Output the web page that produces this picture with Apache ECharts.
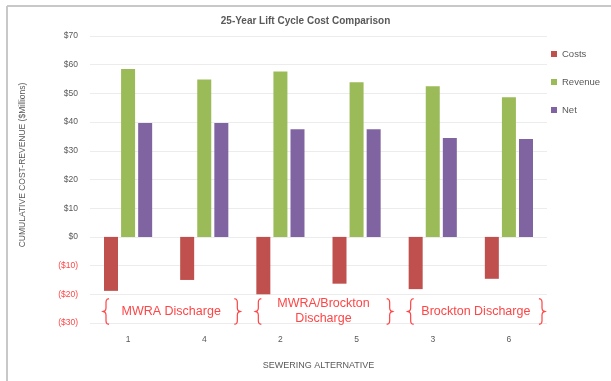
<!DOCTYPE html>
<html>
<head>
<meta charset="utf-8">
<script src="https://cdn.jsdelivr.net/npm/echarts@6/dist/echarts.min.js"></script>
<style>
  html, body { margin: 0; padding: 0; background: #fff; }
  #chart { width: 611px; height: 381px; }
</style>
</head>
<body>
<div id="chart"></div>
<script>
// sewering alternatives, in the order shown
var categories = ['1', '4', '2', '5', '3', '6'];
var costs   = [-18.8, -15.0, -20.0, -16.3, -18.2, -14.6];
var revenue = [58.5, 54.8, 57.6, 53.9, 52.5, 48.7];
var net     = [39.7, 39.7, 37.5, 37.5, 34.5, 34.1];
// brace groups: [first category index, last category index, label]
var groups = [
  [0, 1, 'MWRA Discharge'],
  [2, 3, 'MWRA/Brockton\nDischarge'],
  [4, 5, 'Brockton Discharge']
];

var font = 'Liberation Sans';
var red = '#ff4545';

function money(v) {
  if (v < 0) return '($' + (-v) + ')';
  return '$' + v;
}

var myChart = echarts.init(document.getElementById('chart'));
var option = {
  animation: false,
  textStyle: { fontFamily: font },
  title: {
    text: '25-Year Lift Cycle Cost Comparison',
    left: 'center',
    top: 11,
    textStyle: { fontSize: 10, fontWeight: 'bold', color: '#595959', fontFamily: font }
  },
  legend: {
    orient: 'vertical',
    left: 546,
    top: 44,
    itemWidth: 6,
    itemHeight: 6,
    itemGap: 18,
    icon: 'rect',
    textStyle: { fontSize: 9.5, color: '#595959' },
    data: ['Costs', 'Revenue', 'Net']
  },
  grid: { left: 90, right: 64, top: 36, bottom: 58 },
  xAxis: {
    type: 'category',
    data: categories,
    axisLine: { show: false },
    axisTick: { show: false },
    axisLabel: { fontSize: 8.5, color: '#595959', margin: 12 },
    name: 'SEWERING ALTERNATIVE',
    nameLocation: 'middle',
    nameGap: 38,
    nameTextStyle: { fontSize: 9, color: '#595959' }
  },
  yAxis: {
    type: 'value',
    min: -30,
    max: 70,
    interval: 10,
    axisLine: { show: false },
    axisTick: { show: false },
    axisLabel: {
      fontSize: 8.5,
      margin: 12,
      formatter: money,
      color: function (v) { return v < 0 ? red : '#595959'; }
    },
    splitLine: { lineStyle: { color: '#ececec', width: 1 } }
  },
  series: [
    { name: 'Costs', type: 'bar', data: costs, barWidth: 14, barGap: '22%',
      itemStyle: { color: '#c0504d' } },
    { name: 'Revenue', type: 'bar', data: revenue, barWidth: 14,
      itemStyle: { color: '#9bbb59' } },
    { name: 'Net', type: 'bar', data: net, barWidth: 14,
      itemStyle: { color: '#8064a2' } }
  ]
};
myChart.setOption(option);

// curly brace as a thin polyline, opening right (dir 1) or left (dir -1)
function brace(x, y0, y1, dir) {
  var m = (y0 + y1) / 2, w = 3 * dir;
  return [
    [x + w, y0], [x + w * 0.4, y0 + 0.6], [x + w * 0.1, y0 + 1.8], [x, y0 + 3.5],
    [x, m - 3.5], [x - w * 0.1, m - 1.8], [x - w * 0.4, m - 0.6], [x - w, m],
    [x - w * 0.4, m + 0.6], [x - w * 0.1, m + 1.8], [x, m + 3.5],
    [x, y1 - 3.5], [x + w * 0.1, y1 - 1.8], [x + w * 0.4, y1 - 0.6], [x + w, y1]
  ];
}

// annotations: frame, y axis title, red braces with group labels
var graphics = [
  { type: 'line', shape: { x1: 7, y1: 6, x2: 611, y2: 6 },
    style: { stroke: '#c8c8c8', lineWidth: 2 } },
  { type: 'line', shape: { x1: 7, y1: 6, x2: 7, y2: 381 },
    style: { stroke: '#c8c8c8', lineWidth: 2 } },
  { type: 'text', x: 23, y: 165, rotation: Math.PI / 2,
    style: { text: 'CUMULATIVE COST-REVENUE ($Millions)', fontSize: 8.5, fill: '#595959',
      fontFamily: font, align: 'center', verticalAlign: 'middle' } }
];
var c0 = myChart.convertToPixel({ xAxisIndex: 0 }, categories[0]);
var c1 = myChart.convertToPixel({ xAxisIndex: 0 }, categories[1]);
var band = c1 - c0;
var yTop = myChart.convertToPixel({ yAxisIndex: 0 }, -21.5);
var yBot = myChart.convertToPixel({ yAxisIndex: 0 }, -30.5);
var yMid = (yTop + yBot) / 2;
groups.forEach(function (g) {
  var xa = myChart.convertToPixel({ xAxisIndex: 0 }, categories[g[0]]) - band / 2;
  var xb = myChart.convertToPixel({ xAxisIndex: 0 }, categories[g[1]]) + band / 2;
  graphics.push({ type: 'polyline', shape: { points: brace(xa + 16, yTop, yBot, 1) },
    style: { stroke: red, lineWidth: 1.2, fill: null } });
  graphics.push({ type: 'polyline', shape: { points: brace(xb - 5, yTop, yBot, -1) },
    style: { stroke: red, lineWidth: 1.2, fill: null } });
  graphics.push({ type: 'text', x: (xa + xb) / 2 + 5, y: yMid,
    style: { text: g[2], fontSize: 12.5, fill: red, fontFamily: font, lineHeight: 15,
      align: 'center', verticalAlign: 'middle' } });
});
myChart.setOption({ graphic: graphics });
</script>
</body>
</html>
